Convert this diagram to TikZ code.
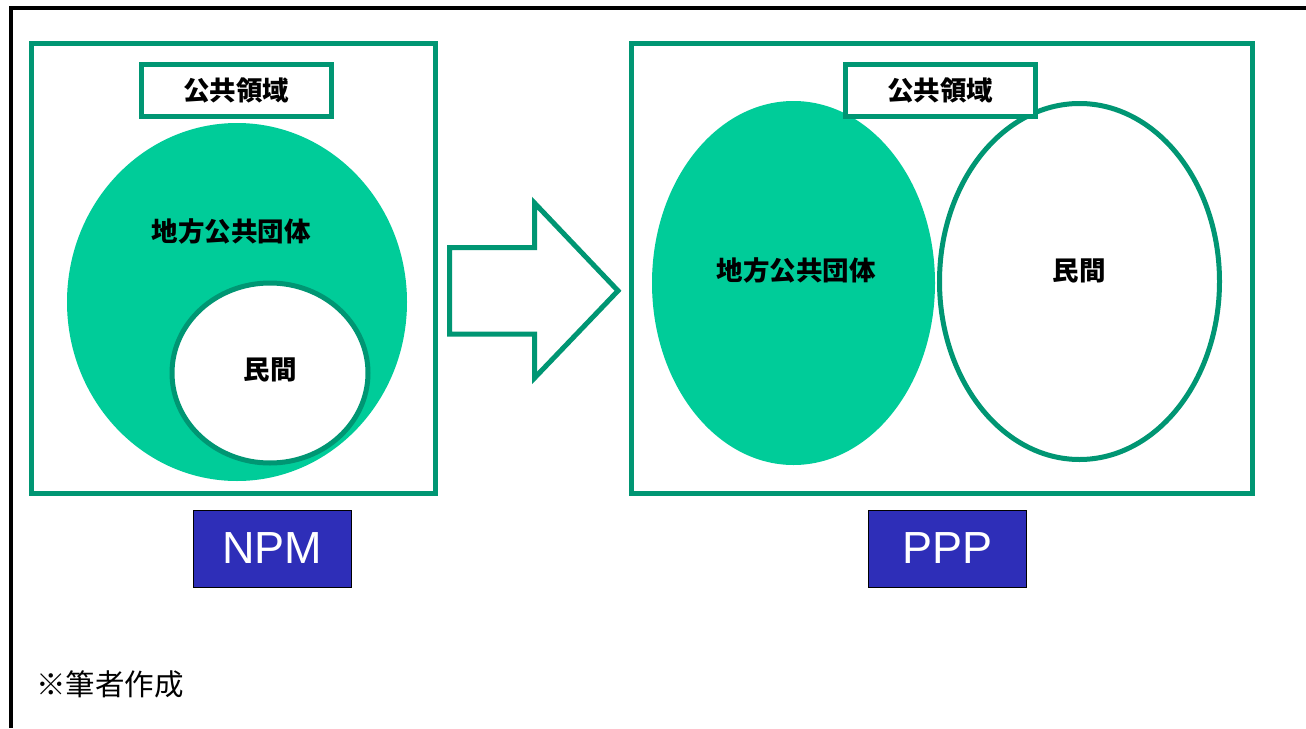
\documentclass[tikz,border=0pt]{standalone}
\usepackage{fontspec}
\usetikzlibrary{shapes.geometric}
\setmainfont{Liberation Sans}
\newfontfamily\jp{Noto Sans CJK JP}
\definecolor{frameg}{RGB}{0,150,115}
\definecolor{fillg}{RGB}{0,204,153}
\definecolor{boxblue}{RGB}{46,46,184}
\begin{document}
\begin{tikzpicture}[x=1pt,y=-1pt,
  panelframe/.style={draw=frameg,line width=5pt},
  lbl/.style={font=\jp\bfseries\fontsize{26.5}{28}\selectfont,inner sep=0pt},
  domainbox/.style={draw=frameg,line width=5pt,fill=white,minimum width=190pt,minimum height=52pt,inner sep=0pt,font=\jp\bfseries\fontsize{26.5}{28}\selectfont},
  tagbox/.style={draw=black,line width=1pt,fill=boxblue,text=white,minimum width=158pt,minimum height=77pt,inner sep=0pt,font=\fontsize{45}{50}\selectfont}]
\useasboundingbox (0,0) rectangle (1306,728);
\fill[white] (0,0) rectangle (1306,728);
% outer border (only top and left visible)
\draw[line width=3.5pt,black] (11,728) -- (11,8) -- (1306,8);
% left panel
\node[panelframe,minimum width=404pt,minimum height=450pt,inner sep=0pt] (lframe) at (233,268) {};
\fill[fillg] (237,302) ellipse [x radius=170,y radius=179];
\node[draw=frameg,line width=5pt,fill=white,ellipse,minimum width=196pt,minimum height=180pt,inner sep=0pt] (lmin) at (270,373) {};
\node[lbl] (lchi) at (231,231) {地方公共団体};
\node[lbl] (lmint) at (270,370) {民間};
\node[domainbox] (ldom) at (236,90.5) {公共領域};
% arrow
\draw[frameg,line width=5pt,line join=miter] (449.5,247.5) -- (534.5,247.5) -- (534.5,203) -- (618,290.75) -- (534.5,378) -- (534.5,334) -- (449.5,334) -- cycle;
% right panel
\node[panelframe,minimum width=621pt,minimum height=450pt,inner sep=0pt] (rframe) at (941.5,268) {};
\fill[fillg] (793.5,283) ellipse [x radius=141.5,y radius=182];
\node[draw=frameg,line width=5pt,fill=white,ellipse,minimum width=280pt,minimum height=356pt,inner sep=0pt] (rmin) at (1079.5,281.5) {};
\node[lbl] (rchi) at (796,270) {地方公共団体};
\node[lbl] (rmint) at (1079,271) {民間};
\node[domainbox] (rdom) at (940,90.5) {公共領域};
% tags
\node[tagbox] (npm) at (272,548.5) {NPM};
\node[tagbox] (ppp) at (947.5,548.5) {PPP};
\node[font=\jp\fontsize{29.5}{32}\selectfont,anchor=west,inner sep=0pt] (note) at (36,684) {※筆者作成};
\end{tikzpicture}
\end{document}
